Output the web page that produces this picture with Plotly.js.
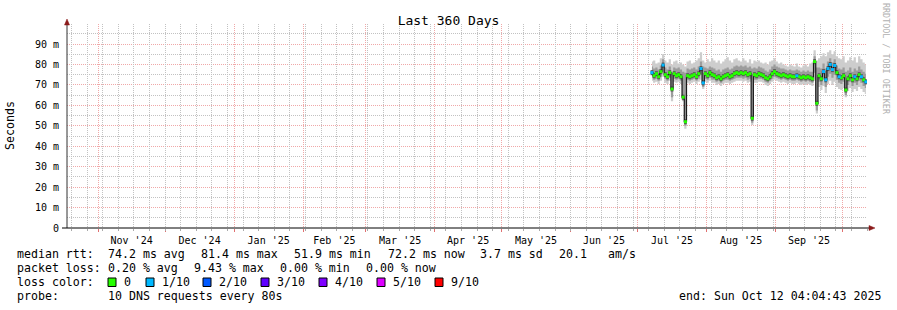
<!DOCTYPE html>
<html>
<head>
<meta charset="utf-8">
<script src="https://cdn.plot.ly/plotly-3.0.1.min.js"></script>
<style>
html,body{margin:0;padding:0;background:#fff;}
#chart{width:897px;height:310px;}
</style>
</head>
<body>
<div id="chart"></div>
<script>
// ---- data (one value per day, starting 2025-07-07) ----
const seriesStart = '2025-07-07 12:00';
const med = [76.0,74.5,75.5,74.0,76.5,79.7,75.0,74.0,76.0,68.0,
 75.5,74.5,75.0,74.0,64.0,52.0,74.5,74.0,74.5,75.0,
 74.0,75.5,78.0,71.0,75.5,74.5,76.0,75.0,74.5,73.5,
 74.0,73.0,74.0,74.5,75.0,74.0,74.5,75.5,76.0,75.5,
 76.0,75.5,76.0,75.0,75.5,53.7,75.0,74.5,75.5,75.0,
 74.5,73.5,73.0,74.0,75.5,76.5,75.5,75.0,74.5,75.0,
 74.5,74.0,74.5,74.0,74.0,74.5,74.0,73.5,74.0,73.5,
 74.0,73.5,73.0,81.4,61.0,74.5,73.0,76.5,72.5,78.0,
 80.0,77.5,79.5,76.0,74.0,73.5,74.5,67.5,73.0,74.5,
 72.5,74.0,73.0,75.0,74.0,72.5,71.5];
const loss = [1,0,0,0,0,1,0,0,0,0,
 0,0,0,0,0,0,0,0,0,0,
 0,0,1,1,0,0,0,0,0,0,
 0,0,0,0,0,0,0,0,0,0,
 0,0,0,0,0,0,0,0,0,0,
 0,0,0,0,0,0,0,0,0,0,
 0,0,0,0,0,1,0,0,0,0,
 0,0,0,0,0,0,0,1,1,1,
 1,1,1,0,1,0,0,0,0,0,
 0,1,0,0,1,0,1];
const smokeHi = [81.5,82.0,80.5,81.0,83.0,85.0,82.0,81.0,82.5,80.0,
 81.5,82.0,80.5,81.0,80.0,79.0,81.5,82.0,80.5,81.0,
 82.0,83.0,86.0,82.0,81.0,82.5,81.5,83.0,82.0,81.0,
 82.0,80.5,81.5,82.5,83.5,82.0,81.0,82.5,83.0,82.0,
 81.5,83.0,82.0,81.0,82.5,80.5,82.0,81.5,82.0,81.0,
 80.5,81.0,80.0,81.5,82.0,83.0,81.5,80.5,81.0,80.0,
 79.5,79.0,80.0,79.5,79.0,80.5,79.0,78.5,79.5,80.0,
 79.0,80.5,81.0,87.0,82.0,83.0,84.0,85.5,84.0,86.0,
 87.0,85.0,86.5,84.0,83.0,82.5,84.0,81.0,82.0,83.5,
 82.0,83.5,81.0,84.0,82.5,81.0,80.0];
const smokeMidHi = [79.0,78.0,78.5,77.5,79.5,82.5,78.5,77.5,79.0,76.5,
 78.5,78.0,78.5,77.5,76.5,76.0,78.0,77.5,78.0,78.5,
 77.5,79.0,81.5,79.0,78.5,78.0,79.0,78.5,78.0,77.0,
 77.5,76.5,77.5,78.0,78.5,77.5,78.0,79.0,79.5,79.0,
 79.5,79.0,79.5,78.5,79.0,78.0,78.5,78.0,79.0,78.5,
 78.0,77.0,76.5,77.5,79.0,80.0,79.0,78.5,78.0,78.0,
 77.5,77.0,77.5,77.0,77.0,77.5,77.0,76.5,77.0,76.5,
 77.0,76.5,76.5,84.0,78.5,78.5,78.0,80.5,78.0,81.5,
 83.0,81.0,82.5,79.5,78.0,77.5,78.5,76.5,77.0,78.5,
 76.5,78.0,77.0,79.0,77.5,76.5,75.5];
const smokeMidLo = [73.5,72.5,73.0,72.0,74.0,76.5,73.0,72.0,73.5,64.0,
 73.0,72.5,73.0,72.0,62.5,50.0,72.5,72.0,72.5,73.0,
 72.0,73.0,75.0,69.0,73.0,72.5,73.5,72.5,72.5,71.5,
 72.0,71.0,72.0,72.5,72.5,72.0,72.5,73.0,73.5,73.5,
 73.5,73.0,73.5,72.5,73.0,51.5,72.5,72.5,73.0,73.0,
 72.5,71.5,71.0,72.0,73.0,74.0,73.5,73.0,72.5,73.0,
 72.5,72.0,72.5,72.0,72.0,72.5,72.0,71.5,72.0,71.5,
 72.0,71.5,71.0,76.0,57.5,71.5,70.0,72.5,69.0,74.0,
 75.5,73.5,75.0,72.5,71.0,70.5,71.5,65.0,70.0,71.5,
 69.5,71.0,70.0,72.0,71.0,69.5,68.5];
const smokeLo = [72.0,71.0,71.5,70.5,72.0,74.0,71.0,70.5,72.0,62.0,
 71.5,71.0,71.5,70.5,62.0,48.5,71.0,70.5,71.0,71.5,
 70.5,71.5,72.5,68.0,71.5,71.0,72.0,71.0,71.0,70.0,
 70.5,69.5,70.5,71.0,71.0,70.5,71.0,71.5,72.0,72.0,
 72.0,71.5,72.0,71.0,71.5,50.4,71.0,71.0,71.5,71.5,
 71.0,70.0,69.5,70.5,71.5,72.5,72.0,71.5,71.0,71.5,
 71.0,70.5,71.0,70.5,70.5,71.0,70.5,70.0,70.5,70.0,
 70.5,70.0,69.5,72.0,56.0,69.0,67.5,69.5,66.0,70.5,
 72.0,70.0,71.5,69.0,68.0,67.5,68.5,64.0,67.0,68.5,
 66.5,68.0,67.0,69.0,68.0,66.5,65.5];

const yTickVals = [0,10,20,30,40,50,60,70,80,90];
const yTickText = ['0','10 m','20 m','30 m','40 m','50 m','60 m','70 m','80 m','90 m'];
const lossLabels = ['0','1/10','2/10','3/10','4/10','5/10','9/10'];
const lossColors = ['#26ff00','#00b8ff','#0059ff','#5e00ff','#7e00ff','#dd00ff','#ff0000'];
const rttStats = ['74.2 ms avg','81.4 ms max','51.9 ms min','72.2 ms now','3.7 ms sd','20.1','am/s'];
const lossStats = ['0.20 % avg','9.43 % max','0.00 % min','0.00 % now'];
const probeText = '10 DNS requests every 80s';
const endText = 'end: Sun Oct 12 04:04:43 2025';
const xRange = ['2024-10-18 00:00','2025-10-12 00:00'];

// ---- layout helpers ----
const W=897,H=310,L=67,R=30,T=24,B=82;
const PW=W-L-R, PH=H-T-B;
const px = x => (x-L)/PW;
const py = y => (H-B-y)/PH;
const MONO = 'DejaVu Sans Mono';
const DAY = 86400000;

const medGreen = med.map((v,i)=> loss[i]===0 ? v : null);
const medBlue = med.map((v,i)=> loss[i]===1 ? v : null);

const common = {x0: seriesStart, dx: DAY, hoverinfo:'skip', showlegend:false};
const traces = [
  Object.assign({y: smokeLo, mode:'lines', line:{width:0, shape:'hvh', color:'#cccccc'}}, common),
  Object.assign({y: smokeHi, mode:'lines', fill:'tonexty', fillcolor:'#cdcdcd', line:{width:0, shape:'hvh', color:'#cdcdcd'}}, common),
  Object.assign({y: smokeMidLo, mode:'lines', line:{width:0, shape:'hvh', color:'#999'}}, common),
  Object.assign({y: smokeMidHi, mode:'lines', fill:'tonexty', fillcolor:'#9c9c9c', line:{width:0, shape:'hvh', color:'#9c9c9c'}}, common),
  Object.assign({y: med, mode:'markers', marker:{symbol:'line-ew', size:2, color:'#555', line:{color:'#555', width:5}}}, common),
  Object.assign({y: med, mode:'lines', line:{width:1.2, shape:'hvh', color:'#1a1a1a'}}, common),
  Object.assign({y: medGreen, mode:'markers', marker:{symbol:'line-ew', size:2.2, color:lossColors[0], line:{color:lossColors[0], width:3}}}, common),
  Object.assign({y: medBlue, mode:'markers', marker:{symbol:'line-ew', size:2.2, color:lossColors[1], line:{color:lossColors[1], width:3}}}, common),
  {x:[xRange[0]], y:[null], xaxis:'x2', yaxis:'y', mode:'lines', hoverinfo:'skip', showlegend:false}
];

const txtFont = {family: MONO, size: 11.6, color:'#000'};
const ann = [];
function addText(text, x, y, opts){
  ann.push(Object.assign({text:text, xref:'paper', yref:'paper', x:px(x), y:py(y),
    xanchor:'left', yanchor:'middle', showarrow:false, borderpad:0, font:txtFont}, opts||{}));
}
addText('median rtt:', 16, 254);
const rttX = [107,200,293,386.7,479.3,558.3,607];
rttStats.forEach((t,i)=>addText(t, rttX[i], 254));
addText('packet loss:', 16, 268);
const lossX = [107.3,193.3,279,365];
lossStats.forEach((t,i)=>addText(t, lossX[i], 268));
addText('loss color:', 16, 282);
const boxX = [108,146,203,261,319,377,435];
const shapes = [];
lossLabels.forEach((t,i)=>{
  addText(t, boxX[i]+15, 282);
  shapes.push({type:'rect', xref:'paper', yref:'paper', x0:px(boxX[i]), x1:px(boxX[i]+8),
    y0:py(286.5), y1:py(278), fillcolor:lossColors[i], line:{color:'#000', width:1}, layer:'above'});
});
addText('probe:', 16, 296);
addText(probeText, 107, 296);
addText(endText, 678, 296);
ann.push({text:'Seconds', xref:'paper', yref:'paper', x:px(10), y:py(126), textangle:-90,
  xanchor:'center', yanchor:'middle', showarrow:false, font:{family:MONO, size:11.6, color:'#000'}});
ann.push({text:'RRDTOOL / TOBI OETIKER', xref:'paper', yref:'paper', x:px(886), y:py(59), textangle:90,
  xanchor:'center', yanchor:'middle', showarrow:false, font:{family:MONO, size:8.4, color:'#b0b0b0'}});

shapes.push({type:'line', xref:'paper', yref:'paper', x0:px(67), x1:px(67), y0:py(228), y1:py(22), line:{color:'#333', width:1}, layer:'above'});
shapes.push({type:'line', xref:'paper', yref:'paper', x0:px(62), x1:px(870), y0:py(228), y1:py(228), line:{color:'#000', width:1}, layer:'above'});
shapes.push({type:'path', xref:'paper', yref:'paper',
  path:'M'+px(67)+','+py(19)+' L'+px(64.5)+','+py(25)+' L'+px(69.5)+','+py(25)+' Z',
  fillcolor:'#8b1a1a', line:{color:'#8b1a1a', width:0.5}, layer:'above'});
shapes.push({type:'path', xref:'paper', yref:'paper',
  path:'M'+px(875)+','+py(228)+' L'+px(869)+','+py(225.5)+' L'+px(869)+','+py(230.5)+' Z',
  fillcolor:'#8b1a1a', line:{color:'#8b1a1a', width:0.5}, layer:'above'});

const MGRID = '#f0a8a8', GRID = '#c2c2c2';
const layout = {
  width:W, height:H,
  margin:{l:L, r:R, t:T, b:B, pad:0},
  paper_bgcolor:'#fff', plot_bgcolor:'#fff',
  showlegend:false,
  title:{text:'Last 360 Days', font:{family:MONO, size:13, color:'#000'}, xref:'container', yref:'container', x:0.5, y:1-20/H, xanchor:'center', yanchor:'middle'},
  xaxis2:{
    type:'date', range:xRange, overlaying:'x', anchor:'y', side:'bottom',
    tick0:'2024-10-20', dtick:7*DAY, showticklabels:false,
    showgrid:true, gridcolor:GRID, griddash:'1px,1px', gridwidth:1,
    ticks:'outside', ticklen:2, tickcolor:'#aaa',
    showline:false, zeroline:false, fixedrange:true
  },
  xaxis:{
    type:'date', range:xRange,
    dtick:'M1', tick0:'2024-11-01', tickformat:"%b '%y", ticklabelmode:'period',
    showgrid:true, gridcolor:MGRID, griddash:'1px,1px', gridwidth:1,
    ticks:'outside', ticklen:3, tickcolor:'#e07070',
    tickfont:{family:MONO, size:10, color:'#000'},
    showline:false, zeroline:false, fixedrange:true
  },
  yaxis:{
    range:[0,99.8], tickvals:yTickVals, ticktext:yTickText,
    showgrid:true, gridcolor:MGRID, griddash:'1px,1px', gridwidth:1,
    ticks:'outside', ticklen:5, tickcolor:'rgba(0,0,0,0)',
    tickfont:{family:MONO, size:10, color:'#000'},
    showline:false, zeroline:false, fixedrange:true,
    minor:{dtick:5, showgrid:true, gridcolor:GRID, griddash:'1px,1px', gridwidth:1}
  },
  annotations:ann,
  shapes:shapes
};
Plotly.newPlot('chart', traces, layout, {displayModeBar:false, staticPlot:true});
</script>
</body>
</html>
